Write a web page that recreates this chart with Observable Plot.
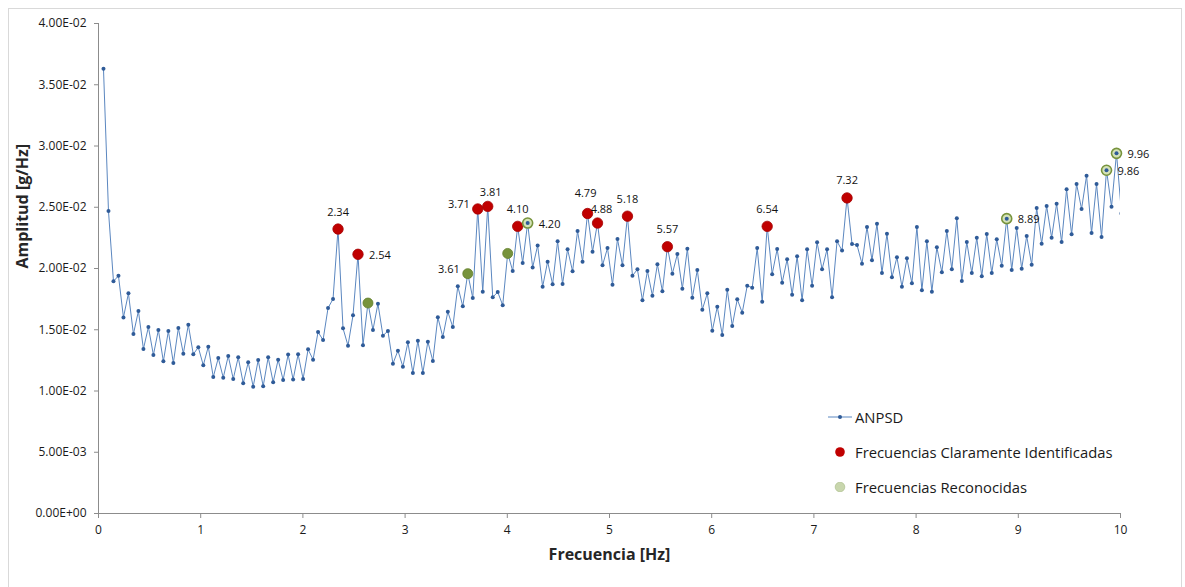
<!DOCTYPE html>
<html><head><meta charset="utf-8">
<script src="https://cdn.jsdelivr.net/npm/d3@7"></script>
<script src="https://cdn.jsdelivr.net/npm/@observablehq/plot@0.6"></script>
<style>
body{margin:0;background:#fff;font-family:"Open Sans",sans-serif;}
#wrap{position:relative;width:1185px;height:587px;overflow:hidden;background:#fff;}
#border{position:absolute;left:8px;top:8px;width:1172px;height:600px;border:1px solid #d9d9d9;}
#chart{position:absolute;left:0;top:0;}
#legend{position:absolute;left:826px;top:399px;font-size:14.8px;color:#1a1a1a;font-family:"Open Sans",sans-serif;}
.row{display:flex;align-items:center;height:35px;}
.row svg{margin-right:3px;}
</style></head>
<body>
<div id="wrap">
  <div id="border"></div>
  <div id="chart"></div>
  <div id="legend">
    <div class="row"><svg width="26" height="10"><line x1="2" y1="5" x2="26" y2="5" stroke="#5b87c0" stroke-width="1"/><circle cx="14" cy="5" r="2" fill="#2f5b98"/></svg><span>ANPSD</span></div>
    <div class="row"><svg width="26" height="10"><circle cx="14" cy="5" r="4.8" fill="#c00000"/></svg><span>Frecuencias Claramente Identificadas</span></div>
    <div class="row"><svg width="26" height="10"><circle cx="14" cy="5" r="4.8" fill="#c8d6ad" stroke="#b3c494" stroke-width="0.8"/></svg><span>Frecuencias Reconocidas</span></div>
  </div>
</div>
<script>
// Frequency resolution of the spectrum (Hz)
const df = 0.048828125;
// ANPSD amplitude [g/Hz], bins k = 1..205
const amplitud = [
0.0363, 0.0247, 0.01895, 0.01941, 0.01601, 0.01797, 0.01465, 0.01653, 0.01343, 0.01522,
0.01294, 0.01498, 0.01242, 0.0149, 0.01229, 0.01514, 0.01305, 0.01541, 0.013, 0.01357,
0.0121, 0.01362, 0.01114, 0.01269, 0.01109, 0.01286, 0.01098, 0.01275, 0.01063, 0.01234,
0.01035, 0.01253, 0.01038, 0.01275, 0.01071, 0.01256, 0.0109, 0.01297, 0.01093, 0.013,
0.01098, 0.0134, 0.01256, 0.01482, 0.01416, 0.01678, 0.01751, 0.02322, 0.01512, 0.0137,
0.01618, 0.02116, 0.01373, 0.01718, 0.01498, 0.01713, 0.01452, 0.0149, 0.01223, 0.01329,
0.01198, 0.01397, 0.01147, 0.01411, 0.01147, 0.01403, 0.01245, 0.01602, 0.01441, 0.01647,
0.01522, 0.01855, 0.01691, 0.01958, 0.01759, 0.02486, 0.01811, 0.02507, 0.01765, 0.01808,
0.017, 0.02123, 0.0198, 0.02344, 0.02045, 0.02371, 0.02008, 0.02188, 0.01851, 0.02056,
0.01871, 0.02222, 0.01873, 0.02157, 0.01977, 0.02306, 0.02056, 0.02449, 0.02137, 0.02371,
0.02026, 0.02167, 0.01868, 0.02241, 0.02026, 0.02427, 0.01941, 0.01993, 0.0174, 0.0198,
0.01778, 0.02034, 0.01814, 0.02178, 0.01958, 0.02118, 0.01835, 0.02162, 0.01762, 0.01988,
0.01664, 0.01797, 0.01492, 0.01688, 0.01457, 0.01827, 0.01531, 0.01749, 0.01639, 0.0186,
0.01843, 0.02167, 0.01729, 0.02344, 0.01954, 0.02159, 0.01884, 0.02075, 0.01786, 0.021,
0.0174, 0.02157, 0.0186, 0.02214, 0.01993, 0.02157, 0.01765, 0.02222, 0.02146, 0.02576,
0.02201, 0.02192, 0.02039, 0.02339, 0.02067, 0.02366, 0.01963, 0.02284, 0.01928, 0.02092,
0.01851, 0.02083, 0.01879, 0.02339, 0.01822, 0.02222, 0.01811, 0.02173, 0.01969, 0.02306,
0.01993, 0.0241, 0.01898, 0.02216, 0.01963, 0.02251, 0.01936, 0.02282, 0.01963, 0.02238,
0.02023, 0.02407, 0.01988, 0.0233, 0.01998, 0.02265, 0.02031, 0.02494, 0.02202, 0.0251,
0.02251, 0.02529, 0.02216, 0.02646, 0.02279, 0.0269, 0.02486, 0.02758, 0.0229, 0.0269,
0.02257, 0.02802, 0.02504, 0.0294, 0.0245
];
// Clearly identified frequencies (bin numbers and labels)
const claraBins = [48, 52, 76, 78, 84, 98, 100, 106, 114, 134, 150];
const claraLabels = ["2.34","2.54","3.71","3.81","4.10","4.79","4.88","5.18","5.57","6.54","7.32"];
// Recognised frequencies (solid style) and (ring style)
const recoSolidBins = [54, 74, 82];
const recoSolidLabels = ["", "3.61", ""];
const recoRingBins = [86, 182, 202, 204];
const recoRingLabels = ["4.20","8.89","9.86","9.96"];
// axis ticks
const xTicks = [0,1,2,3,4,5,6,7,8,9,10];
const yTicks = [0, 0.005, 0.01, 0.015, 0.02, 0.025, 0.03, 0.035, 0.04];

const series = amplitud.map((a, i) => ({f: (i + 1) * df, a}));
const pick = (bins, labels) => bins.map((b, i) => ({...series[b - 1], label: labels[i]}));
const claras = pick(claraBins, claraLabels);
const recoSolid = pick(recoSolidBins, recoSolidLabels);
const recoRing = pick(recoRingBins, recoRingLabels);
const allLabels = [...claras, ...recoSolid, ...recoRing].filter(d => d.label);

const place = {"2.54":"right","4.20":"right","8.89":"right","9.86":"right","9.96":"right","3.61":"left","3.71":"left","3.81":"top2","4.79":"top3","4.88":"top4"};
const byPlace = p => allLabels.filter(d => (place[d.label] || "top") === p);

const fmt = v => {
  const [m, e] = v.toExponential(2).split("e");
  const s = e[0] === "-" ? "-" : "+";
  const n = e.replace(/[+-]/, "").padStart(2, "0");
  return m + "E" + s + n;
};

const blue = "#5b87c0", dotBlue = "#2f5b98", axisGray = "#8c8c8c";
const lblStyle = {x: "f", y: "a", text: "label", fontSize: 11, fill: "#111"};

const chart = Plot.plot({
  width: 1185, height: 587,
  marginLeft: 98, marginRight: 65, marginTop: 23, marginBottom: 74,
  style: {fontFamily: "Open Sans, sans-serif", background: "transparent", overflow: "visible"},
  x: {domain: [0, 10]},
  y: {domain: [0, 0.04]},
  marks: [
    Plot.ruleY([0], {stroke: axisGray}),
    Plot.ruleX([0], {stroke: axisGray}),
    Plot.axisY(yTicks, {tickFormat: fmt, tickSize: 4, tickPadding: 8, fontSize: 12, stroke: axisGray, fill: "#1a1a1a", label: null}),
    Plot.axisX(xTicks, {tickFormat: d => String(d), tickSize: 5, tickPadding: 7, fontSize: 12, stroke: axisGray, fill: "#1a1a1a", label: null}),
    Plot.line(series, {x: "f", y: "a", stroke: blue, strokeWidth: 1, clip: true}),
    Plot.dot(series, {x: "f", y: "a", r: 2, fill: dotBlue, clip: true}),
    Plot.dot(claras, {x: "f", y: "a", r: 5.2, fill: "#c00000", stroke: "#a50000", strokeWidth: 0.8}),
    Plot.dot(recoSolid, {x: "f", y: "a", r: 5, fill: "#77933c", stroke: "#63802c", strokeWidth: 0.8}),
    Plot.dot(recoRing, {x: "f", y: "a", r: 5, fill: "#d4e2b8", stroke: "#77933c", strokeWidth: 1.6}),
    Plot.dot(recoRing, {x: "f", y: "a", r: 2, fill: dotBlue}),
    Plot.text(byPlace("top"), {...lblStyle, dy: -17}),
    Plot.text(byPlace("top2"), {...lblStyle, dx: 3, dy: -14}),
    Plot.text(byPlace("top3"), {...lblStyle, dx: -2, dy: -20}),
    Plot.text(byPlace("top4"), {...lblStyle, dx: 4, dy: -14}),
    Plot.text(byPlace("right"), {...lblStyle, textAnchor: "start", dx: 11, dy: 1}),
    Plot.text(byPlace("left"), {...lblStyle, textAnchor: "end", dx: -8, dy: -4}),
    Plot.text(["Frecuencia [Hz]"], {frameAnchor: "bottom", dy: 46, fontSize: 16, fontWeight: "bold", fill: "#262626"}),
    Plot.text(["Amplitud [g/Hz]"], {frameAnchor: "left", dx: -76, rotate: -90, fontSize: 16, fontWeight: "bold", fill: "#262626"})
  ]
});
document.getElementById("chart").appendChild(chart);
</script>
</body></html>
